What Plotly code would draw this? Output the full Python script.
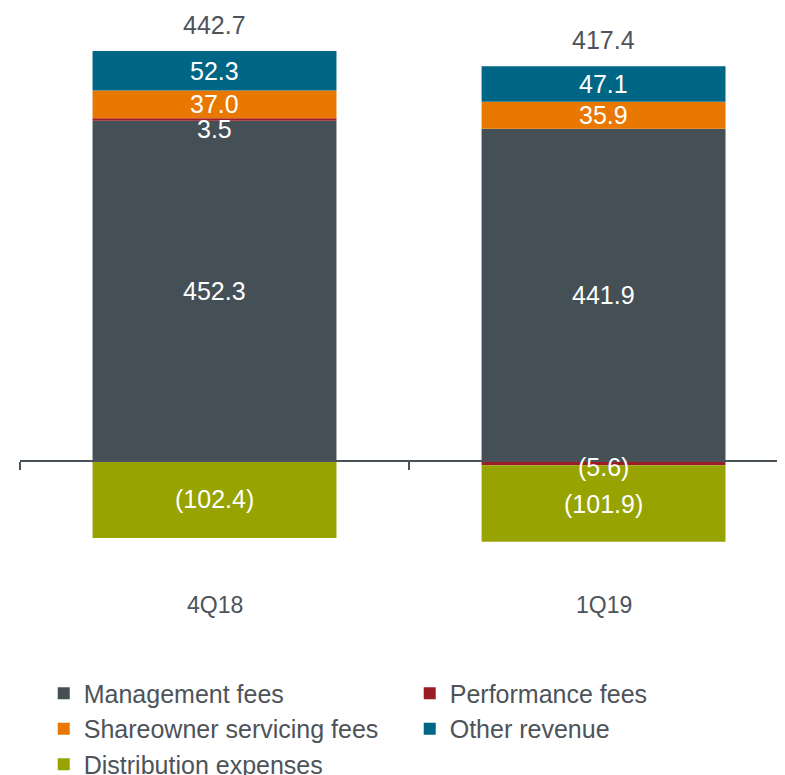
import plotly.graph_objects as go

categories = ["4Q18", "1Q19"]
series_names = ["Management fees", "Performance fees", "Shareowner servicing fees",
                "Other revenue", "Distribution expenses"]
management = [452.3, 441.9]
performance = [3.5, -5.6]
shareowner = [37.0, 35.9]
other = [52.3, 47.1]
distribution = [-102.4, -101.9]
totals = [442.7, 417.4]

colors = ["#454f56", "#9b1c25", "#e87800", "#006686", "#97a300"]
values = [management, performance, shareowner, other, distribution]
TXT = "#4d5359"
FONT = "Liberation Sans, Arial, sans-serif"

def fmt(v):
    return f"({abs(v):.1f})" if v < 0 else f"{v:.1f}"

fig = go.Figure()
for name, vals, col in zip(series_names, values, colors):
    fig.add_trace(go.Bar(x=categories, y=vals, name=name, marker_color=col,
                         marker_line_width=0, width=0.627, hoverinfo="skip"))

annotations = []
for i, cat in enumerate(categories):
    pos, neg = 0.0, 0.0
    for k, vals in enumerate(values):
        v = vals[i]
        if v >= 0:
            base, pos = pos, pos + v
        else:
            base, neg = neg, neg + v
        mid = base + v / 2
        small = abs(v) < 10
        yshift = 0
        if small:
            yshift = -9 if v > 0 else -4
        annotations.append(dict(x=cat, y=mid, text=fmt(v), showarrow=False,
                                font=dict(size=25, color="white", family=FONT),
                                yshift=yshift, xref="x", yref="y"))
    annotations.append(dict(x=cat, y=pos, text=fmt(totals[i]), showarrow=False,
                            yanchor="middle", yshift=26,
                            font=dict(size=25, color=TXT, family=FONT)))
    annotations.append(dict(x=cat, y=-191.5, text=cat, showarrow=False,
                            font=dict(size=23, color=TXT, family=FONT)))

y0, y1 = -248.7, 602.4
fig.update_layout(
    width=785, height=775,
    barmode="relative",
    plot_bgcolor="white", paper_bgcolor="white",
    margin=dict(l=12, r=0, t=0, b=135, autoexpand=False),
    font=dict(family=FONT, color=TXT, size=24),
    xaxis=dict(range=[-0.5, 1.487], showline=True, linecolor="#4a5258", linewidth=2,
               ticks="outside", tickson="boundaries", ticklen=8, tickwidth=2,
               tickcolor="#4a5258", showticklabels=False, showgrid=False,
               anchor="free", position=(0 - y0) / (y1 - y0), fixedrange=True),
    yaxis=dict(range=[y0, y1], visible=False, showgrid=False, zeroline=False),
    legend=dict(orientation="h", x=0.0307, xanchor="left", y=-0.035, yanchor="top",
                entrywidth=321, entrywidthmode="pixels", traceorder="normal",
                font=dict(size=25, color=TXT, family=FONT), itemwidth=30,
                tracegroupgap=0),
    annotations=annotations,
    showlegend=True,
)
fig.write_html("out.html")
